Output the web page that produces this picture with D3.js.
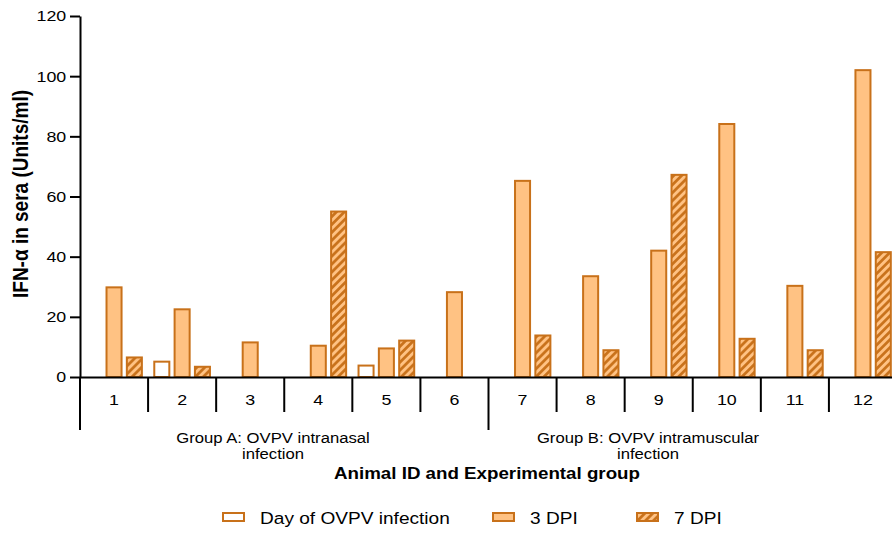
<!DOCTYPE html>
<html>
<head>
<meta charset="utf-8">
<script src="https://cdn.jsdelivr.net/npm/d3@7"></script>
<style>
  html, body { margin: 0; padding: 0; background: #fff; }
  svg { display: block; }
  text { font-family: "Liberation Sans", Arial, sans-serif; fill: #000; }
</style>
</head>
<body>
<svg id="chart" width="892" height="534"></svg>
<script>
// ---- data ----
const animals = ["1","2","3","4","5","6","7","8","9","10","11","12"];
const seriesNames = ["Day of OVPV infection", "3 DPI", "7 DPI"];
const day0Values = [null, 5.1, null, null, 3.8, null, null, null, null, null, null, null];
const dpi3Values = [29.8, 22.5, 11.5, 10.4, 9.5, 28.2, 65.2, 33.5, 42.0, 84.1, 30.3, 102.0];
const dpi7Values = [6.5, 3.4, null, 55.0, 12.1, null, 13.8, 8.9, 67.2, 12.7, 8.9, 41.5];
const yTicks = [0, 20, 40, 60, 80, 100, 120];
const groupNames = [["Group A: OVPV intranasal", "infection"], ["Group B: OVPV intramuscular", "infection"]];
const groupSizes = [6, 6];
const yTitle = "IFN-\u03b1 in sera (Units/ml)";
const xTitle = "Animal ID and Experimental group";

// ---- layout ----
const SX = 1.15; // horizontal text stretch seen in the reference
const fillC = "#FFC283", strokeC = "#C8711A";
const svg = d3.select("#chart");
const mLeft = 80, mRight = 897, mTop = 16, mBottom = 377;

const x = d3.scaleBand().domain(animals).range([mLeft, mRight]).paddingInner(0).paddingOuter(0);
const y = d3.scaleLinear().domain([0, 120]).range([mBottom, mTop]);
const xs = d3.scaleBand().domain(seriesNames).range([0, x.bandwidth()]).paddingInner(0.26).paddingOuter(0.305);

// hatch pattern
const defs = svg.append("defs");
const pat = defs.append("pattern").attr("id", "hatch").attr("patternUnits", "userSpaceOnUse")
  .attr("width", 5.6).attr("height", 5.6).attr("patternTransform", "rotate(45)");
pat.append("rect").attr("width", 5.6).attr("height", 5.6).attr("fill", fillC);
pat.append("line").attr("x1", 1.4).attr("y1", 0).attr("x2", 1.4).attr("y2", 5.6)
  .attr("stroke", strokeC).attr("stroke-width", 2.7);

const fills = ["#ffffff", fillC, "url(#hatch)"];
const seriesData = [day0Values, dpi3Values, dpi7Values];

// bars
const barsG = svg.append("g");
seriesData.forEach((vals, si) => {
  barsG.selectAll(null)
    .data(animals.map((a, i) => ({ a, v: vals[i] })).filter(d => d.v != null))
    .enter().append("rect")
    .attr("x", d => x(d.a) + xs(seriesNames[si]))
    .attr("y", d => y(d.v))
    .attr("width", xs.bandwidth())
    .attr("height", d => y(0) - y(d.v))
    .attr("fill", fills[si])
    .attr("stroke", strokeC)
    .attr("stroke-width", 2);
});

// y axis
const yAxis = svg.append("g").attr("transform", `translate(${mLeft},0)`)
  .call(d3.axisLeft(y).tickValues(yTicks).tickSize(10).tickSizeOuter(0).tickPadding(2));
yAxis.selectAll("path, line").attr("stroke", "#000").attr("stroke-width", 2);
yAxis.selectAll("text").attr("font-size", 15.5).attr("transform", `scale(${SX},1)`)
  .style("font-family", '"Liberation Sans", Arial, sans-serif').attr("fill", "#000");

// x axis
const xAxis = svg.append("g").attr("transform", `translate(0,${mBottom})`)
  .call(d3.axisBottom(x).tickSize(0).tickSizeOuter(0).tickPadding(17));
xAxis.select("path").attr("stroke", "#000").attr("stroke-width", 2);
xAxis.selectAll("text").attr("font-size", 15.5).attr("transform", `scale(${SX},1)`)
  .style("font-family", '"Liberation Sans", Arial, sans-serif').attr("fill", "#000");

// left axis extension and dividers
const lineG = svg.append("g").attr("stroke", "#000").attr("stroke-width", 2);
lineG.append("line").attr("x1", mLeft).attr("x2", mLeft).attr("y1", mBottom).attr("y2", 430);
let cum = 0;
const groupBoundaries = groupSizes.map(s => { cum += s; return cum; });
animals.forEach((a, i) => {
  if (i === 0) return;
  const isGroup = groupBoundaries.includes(i);
  lineG.append("line").attr("x1", x(a)).attr("x2", x(a))
    .attr("y1", mBottom).attr("y2", isGroup ? 430 : 412);
});

// group labels
const groupCenters = [273, 648];
groupNames.forEach((lines, gi) => {
  lines.forEach((t, li) => {
    svg.append("text")
      .attr("transform", `translate(${groupCenters[gi]},${443 + li * 16}) scale(${SX},1)`)
      .attr("text-anchor", "middle").attr("font-size", 14.5).text(t);
  });
});

// axis titles
svg.append("text")
  .attr("transform", `translate(487,479) scale(${SX},1)`)
  .attr("text-anchor", "middle").attr("font-size", 16.3).attr("font-weight", "bold").text(xTitle);
svg.append("text")
  .attr("transform", `translate(28,194) scale(${SX},1) rotate(-90)`)
  .attr("text-anchor", "middle").attr("font-size", 19).attr("font-weight", "bold").text(yTitle);

// legend
const legendX = [223, 493, 637];
seriesNames.forEach((n, i) => {
  svg.append("rect").attr("x", legendX[i]).attr("y", 513).attr("width", 21).attr("height", 8)
    .attr("fill", fills[i]).attr("stroke", strokeC).attr("stroke-width", 2);
  svg.append("text")
    .attr("transform", `translate(${legendX[i] + 37},523.5) scale(${SX},1)`)
    .attr("font-size", 16.6).text(n);
});
</script>
</body>
</html>
